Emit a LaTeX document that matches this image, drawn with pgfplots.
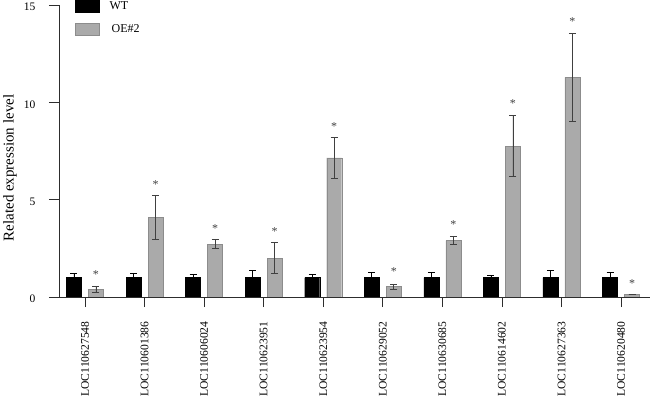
\documentclass[border=0pt]{standalone}
\usepackage{pgfplots}
\pgfplotsset{compat=1.18}
\usepackage{pgfplotstable}
\usepackage{fontspec}
\setmainfont{Liberation Serif}

\definecolor{oegray}{RGB}{170,170,170}
\definecolor{oeedge}{RGB}{140,140,140}
\definecolor{axisgray}{RGB}{45,45,45}

% relative expression: mean and error for each gene
\pgfplotstableread{
x  wt   wterr  oe     oeerr  star
0  1.0  0.20   0.40   0.15   1.23
1  1.0  0.20   4.10   1.12   5.87
2  1.0  0.15   2.72   0.23   3.61
3  1.0  0.35   2.00   0.80   3.46
4  1.0  0.17   7.15   1.05   8.87
5  1.0  0.25   0.53   0.12   1.39
6  1.0  0.25   2.90   0.20   3.82
7  1.0  0.13   7.75   1.57   10.03
8  1.0  0.35   11.28  2.28   14.26
9  1.0  0.25   0.12   0.00   0.81
}\expr

\begin{document}
\begin{tikzpicture}
\begin{axis}[
  scale only axis,
  width=591pt, height=292pt,
  at={(0,0)}, anchor=south west,
  xmin=-0.4365, xmax=9.486,
  ymin=0, ymax=15,
  axis x line*=bottom, axis y line*=left,
  axis line style={-, axisgray, line width=0.8pt},
  tick style={axisgray, line width=0.8pt},
  tick align=outside,
  major tick length=10pt,
  xtick={0,...,9},
  xticklabels={LOC110627548,LOC110601386,LOC110606024,LOC110623951,LOC110623954,LOC110629052,LOC110630685,LOC110614602,LOC110627363,LOC110620480},
  xticklabel style={rotate=90, anchor=east, font=\fontsize{11.6}{11.6}\selectfont},
  xticklabel shift=11pt,
  ytick={0,5,10,15},
  yticklabel style={font=\fontsize{11.5}{11.5}\selectfont, yshift=-2pt},
  yticklabel shift=10pt,
  /pgf/number format/assume math mode=true,
  ylabel={Related expression level},
  every axis y label/.style={at={(axis description cs:-0.0829,0.442)}, rotate=90, anchor=center, font=\fontsize{15}{15}\selectfont},
  legend style={draw=none, fill=none, at={(0,1)}, anchor=north west, xshift=16pt, yshift=6pt,
    font=\fontsize{12}{12}\selectfont, row sep=10pt, inner sep=0pt,
    cells={anchor=west}},
  legend image code/.code={\draw[#1] (0pt,-6pt) rectangle (24pt,6pt);},
]
\addplot[ybar, bar width=15pt, bar shift=-11pt, fill=black, draw=black,
  error bars/.cd, y dir=both, y explicit, error mark=|,
  error bar style={black, line width=0.8pt, xshift=-11pt},
  error mark options={black, line width=0.8pt, mark size=3.5pt}]
  table[x=x, y=wt, y error=wterr] {\expr};
\addlegendentry{\hspace{8pt}WT}
\addplot[ybar, bar width=15pt, bar shift=11pt, fill=oegray, draw=oeedge,
  error bars/.cd, y dir=both, y explicit, error mark=|,
  error bar style={black!75, line width=0.8pt, xshift=11pt},
  error mark options={black!75, line width=0.8pt, mark size=3.5pt}]
  table[x=x, y=oe, y error=oeerr] {\expr};
\addlegendentry{\hspace{10pt}OE\#2}
% significance markers above the OE#2 bars
\addplot[draw=none, mark=none, forget plot,
  nodes near coords={*},
  every node near coord/.append style={anchor=center, inner sep=0pt, xshift=11pt, yshift=-2pt,
    text=black!75, font=\fontsize{12}{12}\selectfont}]
  table[x=x, y=star] {\expr};
\end{axis}
\pgfresetboundingbox
\useasboundingbox (-59pt,-101pt) rectangle (591pt,297pt);
\end{tikzpicture}
\end{document}
